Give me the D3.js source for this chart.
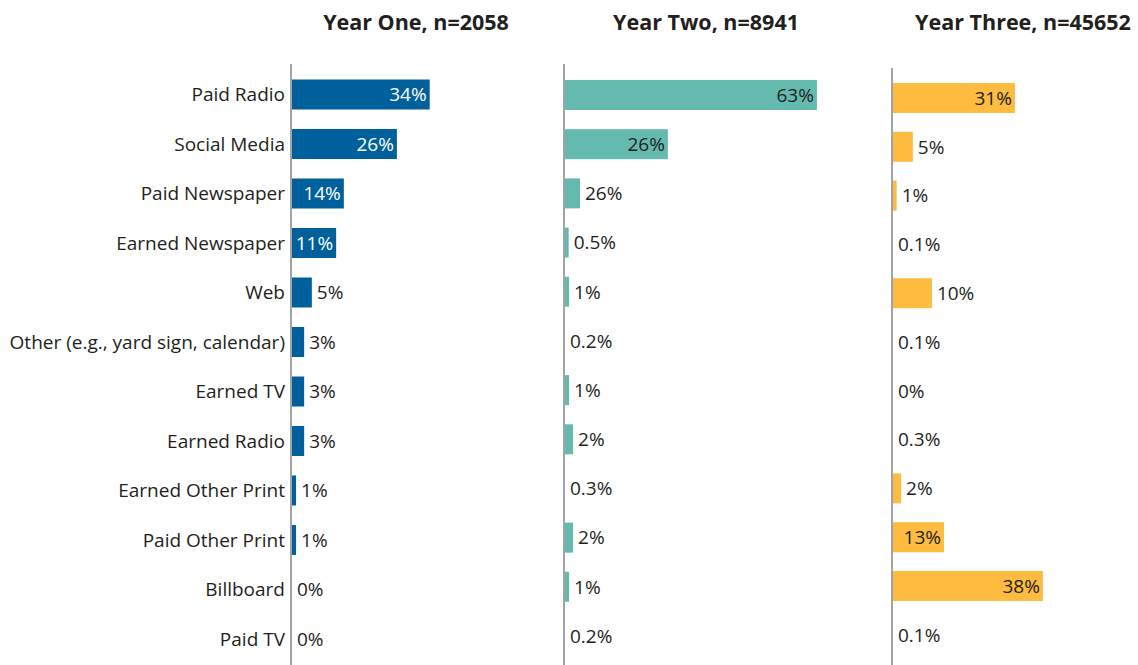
<!DOCTYPE html>
<html lang="en">
<head>
<meta charset="UTF-8">
<title>Media sources by year</title>
<script src="https://d3js.org/d3.v7.min.js"></script>
<style>
  body { margin: 0; background: #fff; }
  text { font-family: "Open Sans", "Noto Sans", sans-serif; fill: #231f20; }
</style>
</head>
<body>
<div id="chart"></div>
<script>
// categories, top to bottom
const categories = ["Paid Radio", "Social Media", "Paid Newspaper", "Earned Newspaper", "Web",
  "Other (e.g., yard sign, calendar)", "Earned TV", "Earned Radio", "Earned Other Print",
  "Paid Other Print", "Billboard", "Paid TV"];

const panelTitles = ["Year One, n=2058", "Year Two, n=8941", "Year Three, n=45652"];

// bar lengths and the printed labels
const yearOneValues = [34, 25.9, 12.8, 10.9, 4.9, 3, 3, 3, 1, 1, 0, 0];
const yearOneLabels = ["34%", "26%", "14%", "11%", "5%", "3%", "3%", "3%", "1%", "1%", "0%", "0%"];

const yearTwoValues = [62.2, 25.4, 3.7, 0.9, 1, 0, 1, 2, 0, 2, 1, 0];
const yearTwoLabels = ["63%", "26%", "26%", "0.5%", "1%", "0.2%", "1%", "2%", "0.3%", "2%", "1%", "0.2%"];

const yearThreeValues = [30.1, 4.9, 0.9, 0, 9.6, 0, 0, 0, 2, 12.6, 37, 0];
const yearThreeLabels = ["31%", "5%", "1%", "0.1%", "10%", "0.1%", "0%", "0.3%", "2%", "13%", "38%", "0.1%"];

const W = 1138, H = 665;
const svg = d3.select("#chart").append("svg")
  .attr("width", W).attr("height", H);

// px per percent is the same in every panel
const x = d3.scaleLinear().domain([0, 100]).range([0, 405]);

const panels = [
  { title: panelTitles[0], values: yearOneValues, labels: yearOneLabels, axisX: 291, top: 64,
    titleX: 416, yRange: [94.5, 639], color: "#00609c", insideColor: "#ffffff" },
  { title: panelTitles[1], values: yearTwoValues, labels: yearTwoLabels, axisX: 564, top: 64,
    titleX: 706, yRange: [95, 636], color: "#64baaf", insideColor: "#231f20" },
  { title: panelTitles[2], values: yearThreeValues, labels: yearThreeLabels, axisX: 892, top: 68,
    titleX: 1023, yRange: [98, 634.8], color: "#fdbb40", insideColor: "#231f20" }
];

const barH = 30;
const fontSize = 19;

panels.forEach((p, pi) => {
  const y = d3.scalePoint().domain(categories).range(p.yRange);
  const g = svg.append("g");

  // title
  g.append("text")
    .attr("x", p.titleX).attr("y", 30)
    .attr("text-anchor", "middle")
    .style("font-weight", "bold")
    .style("font-size", "21.5px")
    .text(p.title);

  const rows = categories.map((c, i) => ({ cat: c, v: p.values[i], label: p.labels[i] }));

  g.selectAll("rect.bar").data(rows).enter().append("rect")
    .attr("class", "bar")
    .attr("x", p.axisX + 1)
    .attr("y", d => y(d.cat) - barH / 2)
    .attr("width", d => x(d.v))
    .attr("height", barH)
    .attr("fill", p.color);

  g.selectAll("text.val").data(rows).enter().append("text")
    .attr("class", "val")
    .attr("x", d => {
      const end = p.axisX + 1 + x(d.v);
      return x(d.v) > 42 ? end - 3 : end + 5;
    })
    .attr("y", d => y(d.cat))
    .attr("dy", "0.36em")
    .attr("text-anchor", d => x(d.v) > 42 ? "end" : "start")
    .style("font-size", fontSize + "px")
    .style("fill", d => x(d.v) > 42 ? p.insideColor : "#231f20")
    .text(d => d.label);

  // vertical axis line
  g.append("line")
    .attr("x1", p.axisX).attr("x2", p.axisX)
    .attr("y1", p.top).attr("y2", H)
    .attr("stroke", "#a3a3a5").attr("stroke-width", 2);

  // category labels only on the first panel
  if (pi === 0) {
    g.selectAll("text.cat").data(categories).enter().append("text")
      .attr("class", "cat")
      .attr("x", p.axisX - 6)
      .attr("y", d => y(d))
      .attr("dy", "0.36em")
      .attr("text-anchor", "end")
      .style("font-size", fontSize + "px")
      .text(d => d);
  }
});
</script>
</body>
</html>
